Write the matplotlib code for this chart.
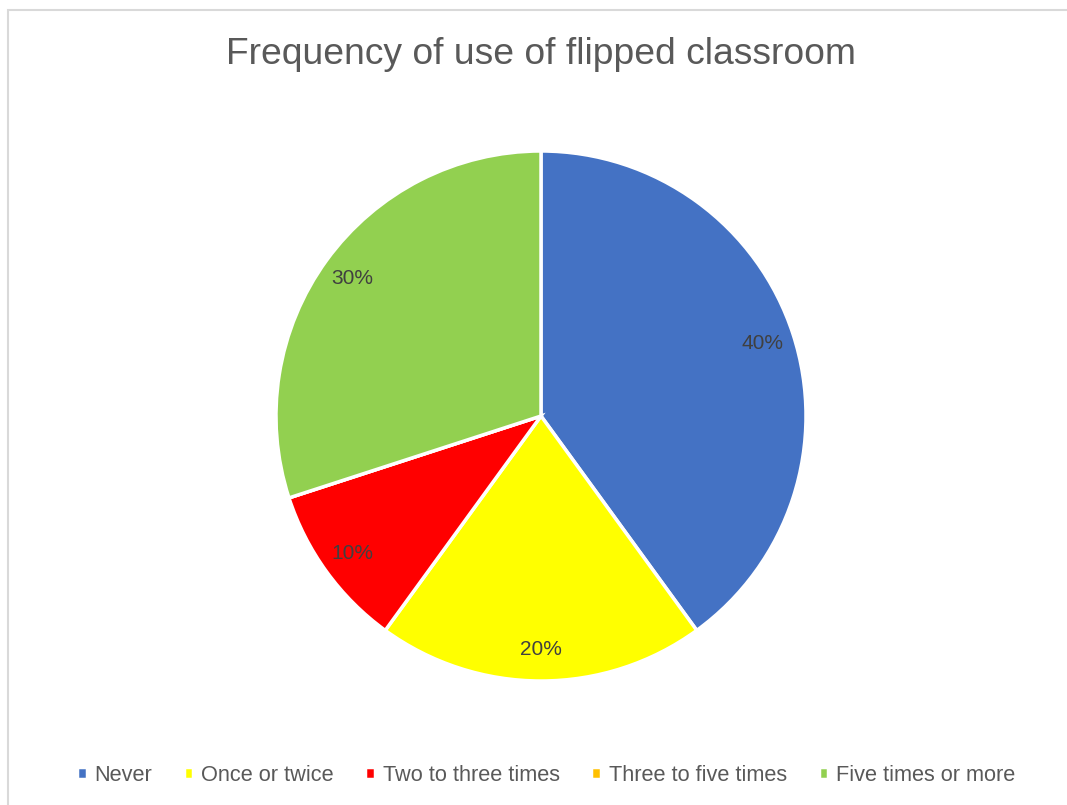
import matplotlib.pyplot as plt
from matplotlib.patches import Rectangle

categories = ['Never', 'Once or twice', 'Two to three times', 'Three to five times', 'Five times or more']
shares = [40, 20, 10, 0, 30]
colors = ['#4472C4', '#FFFF00', '#FF0000', '#FFC000', '#92D050']

W, H = 1067, 805
fig = plt.figure(figsize=(W / 100, H / 100), dpi=100)

# light grey chart frame (right and bottom edges fall outside the image)
fig.patches.append(Rectangle((8 / W, -0.1), 1.2, 1 - 10 / H + 0.1, transform=fig.transFigure,
                             fill=False, edgecolor='#D9D9D9', linewidth=1.5))

cx, cy, r = 541, 416, 265
ax = fig.add_axes([(cx - r) / W, (H - cy - r) / H, 2 * r / W, 2 * r / H])


def pct(v):
    return '' if v < 0.5 else f'{v:.0f}%'


wedges, _, autotexts = ax.pie(shares, colors=colors, startangle=90, counterclock=False,
                              autopct=pct, pctdistance=0.88, radius=1,
                              wedgeprops=dict(edgecolor='white', linewidth=2.5),
                              textprops=dict(color='#404040', fontsize=15,
                                             family=['Liberation Sans Narrow', 'Liberation Sans']))
ax.set_xlim(-1, 1)
ax.set_ylim(-1, 1)
ax.set_aspect('equal')
ax.axis('off')

fig.text(cx / W, 1 - 54 / H, 'Frequency of use of flipped classroom', ha='center', va='center',
         fontsize=26.8, color='#595959', family='Liberation Sans')

fig.legend(wedges, categories, loc='center', bbox_to_anchor=(546 / W, 1 - 775 / H), ncol=5,
           frameon=False, handlelength=0.45, handleheight=0.45, handletextpad=0.35,
           columnspacing=1.45,
           prop=dict(size=15.7, family=['Liberation Sans Narrow', 'Liberation Sans']),
           labelcolor='#595959')

fig.savefig('out.png', dpi=100)
